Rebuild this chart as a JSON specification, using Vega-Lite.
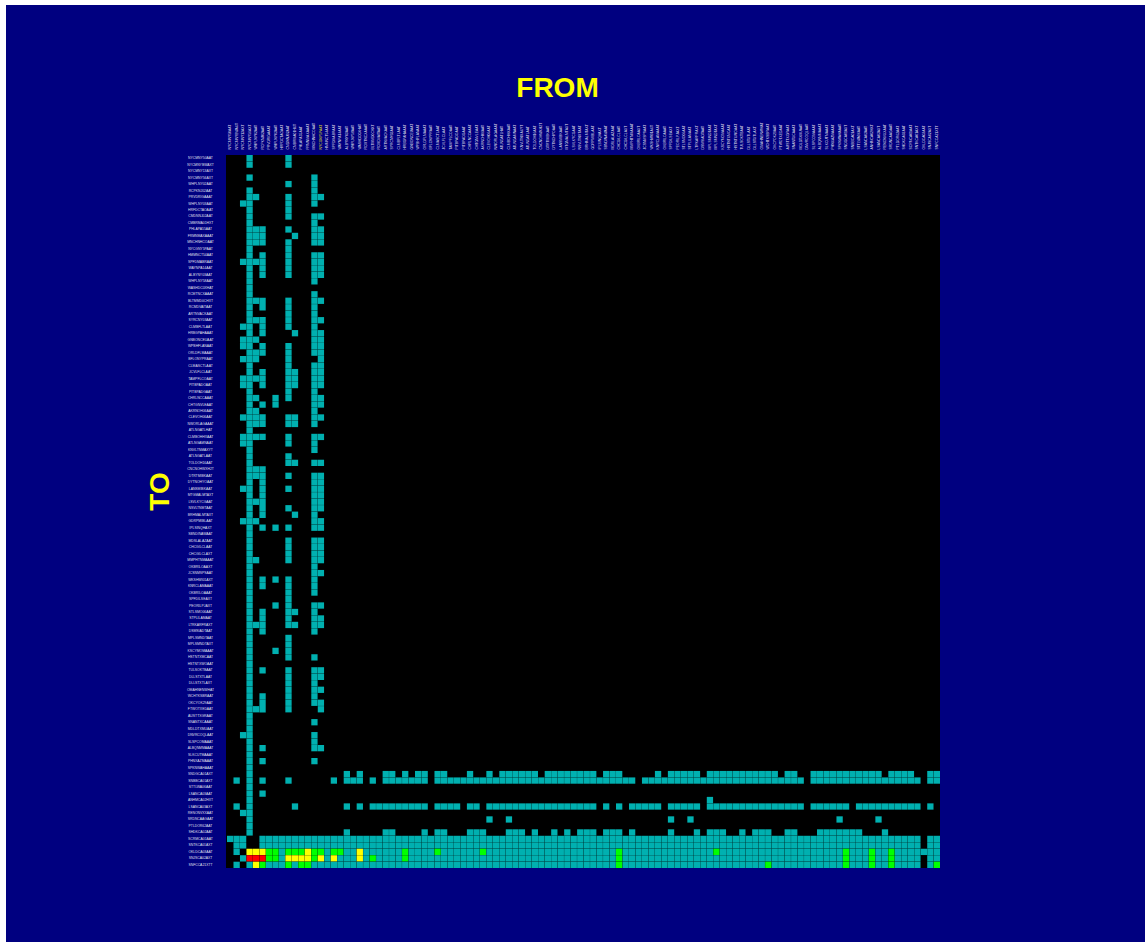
{"$schema":"https://vega.github.io/schema/vega-lite/v6.json","width":1139,"height":937,"autosize":"none","padding":{"left":6,"top":5,"right":0,"bottom":0},"background":"#ffffff","view":{"fill":"#000080","stroke":null},"params":[{"name":"labels","value":["NYCMNY50AAT","NYCMNYBWAXT","NYCMNY13AXT","NYCMNY56AXT","WHPLNY02AAT","RCPKNJ02AAT","PRVDRIGAAAT","WHPLNY03AAT","HRFDCTAOAAT","CMDNNJ02AAT","CMBRMA01HXT","PHLAPA55AAT","FRMNMAXAAAT","MNCHNHCOAAT","NYCGNY5PAAT","HMMNCT54AAT","SPFDMABRAAT","WAYNPA14AAT","ALBYNY03AAT","WHPLNY58AAT","WASHDC0XHAT","RCMTNCXAAAT","BLTMMD0CHXT","RCMDVAITAAT","ARTNVACKAAT","SYRCNY03AAT","CLMBFLTLAAT","HRBGPAHAAAT","GNBONCEUAAT","WPBHFLANAAT","ORLDFLMAAAT","BFLONYPRAAT","CLMASCTLAAT","JCVLFLCLAAT","TAMPFLCOAAT","PITBPADOAAT","PITBPADGAAT","CHRLNCCAAAT","CHTGNVLEAAT","AKRNOH06AAT","CLEVOH06AAT","NWORLAGAAAT","ATLNGATLHAT","CLMBOHHXAAT","ATLNGAMNAAT","KNVLTNMAXYT","ATLNGATLAAT","TOLDOH16AAT","CNCNOHWXH2T","DTRTMIBKAAT","DYTNOHYOAAT","LANSMIBKAAT","MTGMALMTAXT","LSVLKYCGAAT","NSVLTNMTAAT","BRHMALMTAXT","GDRPMIBLAAT","IPLSINQHAXT","SBNDINAWAAT","MDSLALAZAAT","CHCGILCLAAT","CHCGILCLAXT","MMPHTNMAAAT","OKBRILOAAXT","JCSNMSPSAAT","WKSHWI01AXT","KNRCLAMAAAT","OKBRILOAAAT","SPFDILSEAXT","PEORILPJAXT","STLSMO06AAT","STPLILAMAAT","LTRKARFRAXT","DSMSIADTAAT","MPLSMNDTAAT","MPLSMNDTAXT","KSCYMOMAAAT","HSTNTXMCAAT","HSTNTXWOAAT","TULSOKTBAAT","DLLSTXTLAAT","DLLSTXTLAXT","OMAHNENWHAT","WCHTKSBRAAT","OKCYOK29AAT","FTWOTXEDAAT","AUSTTXGRAAT","SNANTXCAAAT","MDLDTXMUAAT","DNVRCOQLAAT","SLSPCOMAAAT","ALBQNMMAAAT","SLKCUTMAAAT","PHNXAZMAAAT","SPKNWAHAAAT","SNDGCA01AXT","SNBBCA01AXT","STTLWA06AAT","LSANCA03AAT","ANHMCA02HXT","LSANCA03AXT","RENONVXXAAT","SRDNCAAGAAT","PTLDOR62AAT","SHDKCA02AAT","SCRMCA01AAT","SNTKCA01AXT","OKLDCA03AAT","SNJSCA02AXT","SNFCCA21XTT"]}],"resolve":{"scale":{"x":"independent","y":"independent"},"axis":{"x":"independent","y":"independent"}},"layer":[{"data":{"values":[{"x0":0,"x1":1,"y0":0,"y1":1}]},"mark":{"type":"rect","fill":"#000000"},"encoding":{"x":{"field":"x0","type":"quantitative","scale":{"domain":[0,1],"range":[220,934]},"axis":null},"x2":{"field":"x1"},"y":{"field":"y0","type":"quantitative","scale":{"domain":[0,1],"range":[150,863]},"axis":null},"y2":{"field":"y1"}}},{"data":{"values":[
{"f":3,"t":0,"l":1},{"f":9,"t":0,"l":1},{"f":3,"t":1,"l":1},{"f":9,"t":1,"l":1},{"f":3,"t":3,"l":1},{"f":13,"t":3,"l":1},{"f":9,"t":4,"l":1},{"f":13,"t":4,"l":1},{"f":3,"t":5,"l":1},{"f":13,"t":5,"l":1},{"f":3,"t":6,"l":1},{"f":4,"t":6,"l":1},{"f":9,"t":6,"l":1},{"f":13,"t":6,"l":1},{"f":14,"t":6,"l":1},{"f":2,"t":7,"l":1},{"f":3,"t":7,"l":1},{"f":9,"t":7,"l":1},{"f":13,"t":7,"l":1},{"f":3,"t":8,"l":1},{"f":9,"t":8,"l":1},{"f":3,"t":9,"l":1},{"f":9,"t":9,"l":1},{"f":13,"t":9,"l":1},{"f":14,"t":9,"l":1},{"f":3,"t":10,"l":1},{"f":13,"t":10,"l":1},{"f":3,"t":11,"l":1},{"f":4,"t":11,"l":1},{"f":5,"t":11,"l":1},{"f":9,"t":11,"l":1},{"f":13,"t":11,"l":1},{"f":14,"t":11,"l":1},{"f":3,"t":12,"l":1},{"f":4,"t":12,"l":1},{"f":5,"t":12,"l":1},{"f":10,"t":12,"l":1},{"f":13,"t":12,"l":1},{"f":14,"t":12,"l":1},{"f":3,"t":13,"l":1},{"f":4,"t":13,"l":1},{"f":5,"t":13,"l":1},{"f":9,"t":13,"l":1},{"f":13,"t":13,"l":1},{"f":14,"t":13,"l":1},{"f":3,"t":14,"l":1},{"f":9,"t":14,"l":1},{"f":3,"t":15,"l":1},{"f":5,"t":15,"l":1},{"f":9,"t":15,"l":1},{"f":13,"t":15,"l":1},{"f":14,"t":15,"l":1},{"f":2,"t":16,"l":1},{"f":3,"t":16,"l":1},{"f":4,"t":16,"l":1},{"f":5,"t":16,"l":1},{"f":9,"t":16,"l":1},{"f":13,"t":16,"l":1},{"f":14,"t":16,"l":1},{"f":3,"t":17,"l":1},{"f":5,"t":17,"l":1},{"f":9,"t":17,"l":1},{"f":13,"t":17,"l":1},{"f":14,"t":17,"l":1},{"f":3,"t":18,"l":1},{"f":5,"t":18,"l":1},{"f":9,"t":18,"l":1},{"f":13,"t":18,"l":1},{"f":14,"t":18,"l":1},{"f":3,"t":19,"l":1},{"f":13,"t":19,"l":1},{"f":3,"t":20,"l":1},{"f":3,"t":21,"l":1},{"f":13,"t":21,"l":1},{"f":3,"t":22,"l":1},{"f":4,"t":22,"l":1},{"f":5,"t":22,"l":1},{"f":9,"t":22,"l":1},{"f":13,"t":22,"l":1},{"f":14,"t":22,"l":1},{"f":3,"t":23,"l":1},{"f":5,"t":23,"l":1},{"f":9,"t":23,"l":1},{"f":13,"t":23,"l":1},{"f":3,"t":24,"l":1},{"f":9,"t":24,"l":1},{"f":13,"t":24,"l":1},{"f":3,"t":25,"l":1},{"f":4,"t":25,"l":1},{"f":5,"t":25,"l":1},{"f":9,"t":25,"l":1},{"f":13,"t":25,"l":1},{"f":14,"t":25,"l":1},{"f":2,"t":26,"l":1},{"f":3,"t":26,"l":1},{"f":5,"t":26,"l":1},{"f":9,"t":26,"l":1},{"f":13,"t":26,"l":1},{"f":3,"t":27,"l":1},{"f":5,"t":27,"l":1},{"f":10,"t":27,"l":1},{"f":13,"t":27,"l":1},{"f":14,"t":27,"l":1},{"f":2,"t":28,"l":1},{"f":3,"t":28,"l":1},{"f":4,"t":28,"l":1},{"f":13,"t":28,"l":1},{"f":14,"t":28,"l":1},{"f":2,"t":29,"l":1},{"f":3,"t":29,"l":1},{"f":5,"t":29,"l":1},{"f":9,"t":29,"l":1},{"f":13,"t":29,"l":1},{"f":14,"t":29,"l":1},{"f":3,"t":30,"l":1},{"f":4,"t":30,"l":1},{"f":5,"t":30,"l":1},{"f":9,"t":30,"l":1},{"f":13,"t":30,"l":1},{"f":14,"t":30,"l":1},{"f":2,"t":31,"l":1},{"f":3,"t":31,"l":1},{"f":4,"t":31,"l":1},{"f":9,"t":31,"l":1},{"f":14,"t":31,"l":1},{"f":3,"t":32,"l":1},{"f":9,"t":32,"l":1},{"f":13,"t":32,"l":1},{"f":14,"t":32,"l":1},{"f":3,"t":33,"l":1},{"f":5,"t":33,"l":1},{"f":9,"t":33,"l":1},{"f":10,"t":33,"l":1},{"f":13,"t":33,"l":1},{"f":14,"t":33,"l":1},{"f":2,"t":34,"l":1},{"f":3,"t":34,"l":1},{"f":4,"t":34,"l":1},{"f":5,"t":34,"l":1},{"f":9,"t":34,"l":1},{"f":10,"t":34,"l":1},{"f":13,"t":34,"l":1},{"f":14,"t":34,"l":1},{"f":2,"t":35,"l":1},{"f":3,"t":35,"l":1},{"f":5,"t":35,"l":1},{"f":9,"t":35,"l":1},{"f":10,"t":35,"l":1},{"f":13,"t":35,"l":1},{"f":14,"t":35,"l":1},{"f":3,"t":36,"l":1},{"f":9,"t":36,"l":1},{"f":13,"t":36,"l":1},{"f":3,"t":37,"l":1},{"f":4,"t":37,"l":1},{"f":7,"t":37,"l":1},{"f":9,"t":37,"l":1},{"f":13,"t":37,"l":1},{"f":14,"t":37,"l":1},{"f":3,"t":38,"l":1},{"f":5,"t":38,"l":1},{"f":7,"t":38,"l":1},{"f":13,"t":38,"l":1},{"f":14,"t":38,"l":1},{"f":3,"t":39,"l":1},{"f":4,"t":39,"l":1},{"f":13,"t":39,"l":1},{"f":2,"t":40,"l":1},{"f":3,"t":40,"l":1},{"f":4,"t":40,"l":1},{"f":5,"t":40,"l":1},{"f":9,"t":40,"l":1},{"f":10,"t":40,"l":1},{"f":13,"t":40,"l":1},{"f":14,"t":40,"l":1},{"f":3,"t":41,"l":1},{"f":4,"t":41,"l":1},{"f":5,"t":41,"l":1},{"f":9,"t":41,"l":1},{"f":10,"t":41,"l":1},{"f":13,"t":41,"l":1},{"f":3,"t":42,"l":1},{"f":2,"t":43,"l":1},{"f":3,"t":43,"l":1},{"f":4,"t":43,"l":1},{"f":5,"t":43,"l":1},{"f":9,"t":43,"l":1},{"f":13,"t":43,"l":1},{"f":14,"t":43,"l":1},{"f":2,"t":44,"l":1},{"f":3,"t":44,"l":1},{"f":9,"t":44,"l":1},{"f":13,"t":44,"l":1},{"f":3,"t":45,"l":1},{"f":13,"t":45,"l":1},{"f":3,"t":46,"l":1},{"f":9,"t":46,"l":1},{"f":3,"t":47,"l":1},{"f":9,"t":47,"l":1},{"f":10,"t":47,"l":1},{"f":13,"t":47,"l":1},{"f":14,"t":47,"l":1},{"f":3,"t":48,"l":1},{"f":4,"t":48,"l":1},{"f":5,"t":48,"l":1},{"f":3,"t":49,"l":1},{"f":4,"t":49,"l":1},{"f":5,"t":49,"l":1},{"f":9,"t":49,"l":1},{"f":13,"t":49,"l":1},{"f":14,"t":49,"l":1},{"f":3,"t":50,"l":1},{"f":5,"t":50,"l":1},{"f":13,"t":50,"l":1},{"f":14,"t":50,"l":1},{"f":2,"t":51,"l":1},{"f":3,"t":51,"l":1},{"f":5,"t":51,"l":1},{"f":9,"t":51,"l":1},{"f":13,"t":51,"l":1},{"f":14,"t":51,"l":1},{"f":3,"t":52,"l":1},{"f":5,"t":52,"l":1},{"f":13,"t":52,"l":1},{"f":14,"t":52,"l":1},{"f":3,"t":53,"l":1},{"f":4,"t":53,"l":1},{"f":5,"t":53,"l":1},{"f":13,"t":53,"l":1},{"f":14,"t":53,"l":1},{"f":3,"t":54,"l":1},{"f":5,"t":54,"l":1},{"f":9,"t":54,"l":1},{"f":13,"t":54,"l":1},{"f":14,"t":54,"l":1},{"f":3,"t":55,"l":1},{"f":5,"t":55,"l":1},{"f":10,"t":55,"l":1},{"f":13,"t":55,"l":1},{"f":2,"t":56,"l":1},{"f":3,"t":56,"l":1},{"f":4,"t":56,"l":1},{"f":13,"t":56,"l":1},{"f":14,"t":56,"l":1},{"f":3,"t":57,"l":1},{"f":5,"t":57,"l":1},{"f":7,"t":57,"l":1},{"f":9,"t":57,"l":1},{"f":13,"t":57,"l":1},{"f":14,"t":57,"l":1},{"f":3,"t":58,"l":1},{"f":3,"t":59,"l":1},{"f":9,"t":59,"l":1},{"f":13,"t":59,"l":1},{"f":14,"t":59,"l":1},{"f":3,"t":60,"l":1},{"f":9,"t":60,"l":1},{"f":13,"t":60,"l":1},{"f":14,"t":60,"l":1},{"f":3,"t":61,"l":1},{"f":9,"t":61,"l":1},{"f":13,"t":61,"l":1},{"f":14,"t":61,"l":1},{"f":3,"t":62,"l":1},{"f":4,"t":62,"l":1},{"f":9,"t":62,"l":1},{"f":13,"t":62,"l":1},{"f":14,"t":62,"l":1},{"f":3,"t":63,"l":1},{"f":13,"t":63,"l":1},{"f":3,"t":64,"l":1},{"f":13,"t":64,"l":1},{"f":14,"t":64,"l":1},{"f":3,"t":65,"l":1},{"f":5,"t":65,"l":1},{"f":7,"t":65,"l":1},{"f":9,"t":65,"l":1},{"f":13,"t":65,"l":1},{"f":3,"t":66,"l":1},{"f":5,"t":66,"l":1},{"f":9,"t":66,"l":1},{"f":13,"t":66,"l":1},{"f":3,"t":67,"l":1},{"f":9,"t":67,"l":1},{"f":13,"t":67,"l":1},{"f":3,"t":68,"l":1},{"f":9,"t":68,"l":1},{"f":3,"t":69,"l":1},{"f":7,"t":69,"l":1},{"f":9,"t":69,"l":1},{"f":13,"t":69,"l":1},{"f":14,"t":69,"l":1},{"f":3,"t":70,"l":1},{"f":5,"t":70,"l":1},{"f":9,"t":70,"l":1},{"f":10,"t":70,"l":1},{"f":13,"t":70,"l":1},{"f":3,"t":71,"l":1},{"f":5,"t":71,"l":1},{"f":9,"t":71,"l":1},{"f":13,"t":71,"l":1},{"f":14,"t":71,"l":1},{"f":3,"t":72,"l":1},{"f":4,"t":72,"l":1},{"f":5,"t":72,"l":1},{"f":9,"t":72,"l":1},{"f":10,"t":72,"l":1},{"f":13,"t":72,"l":1},{"f":14,"t":72,"l":1},{"f":3,"t":73,"l":1},{"f":5,"t":73,"l":1},{"f":13,"t":73,"l":1},{"f":3,"t":74,"l":1},{"f":9,"t":74,"l":1},{"f":3,"t":75,"l":1},{"f":9,"t":75,"l":1},{"f":3,"t":76,"l":1},{"f":7,"t":76,"l":1},{"f":9,"t":76,"l":1},{"f":3,"t":77,"l":1},{"f":9,"t":77,"l":1},{"f":13,"t":77,"l":1},{"f":3,"t":78,"l":1},{"f":3,"t":79,"l":1},{"f":5,"t":79,"l":1},{"f":9,"t":79,"l":1},{"f":13,"t":79,"l":1},{"f":14,"t":79,"l":1},{"f":3,"t":80,"l":1},{"f":9,"t":80,"l":1},{"f":13,"t":80,"l":1},{"f":14,"t":80,"l":1},{"f":3,"t":81,"l":1},{"f":9,"t":81,"l":1},{"f":13,"t":81,"l":1},{"f":3,"t":82,"l":1},{"f":9,"t":82,"l":1},{"f":13,"t":82,"l":1},{"f":14,"t":82,"l":1},{"f":3,"t":83,"l":1},{"f":5,"t":83,"l":1},{"f":9,"t":83,"l":1},{"f":13,"t":83,"l":1},{"f":3,"t":84,"l":1},{"f":5,"t":84,"l":1},{"f":9,"t":84,"l":1},{"f":13,"t":84,"l":1},{"f":14,"t":84,"l":1},{"f":3,"t":85,"l":1},{"f":4,"t":85,"l":1},{"f":5,"t":85,"l":1},{"f":9,"t":85,"l":1},{"f":14,"t":85,"l":1},{"f":3,"t":86,"l":1},{"f":3,"t":87,"l":1},{"f":13,"t":87,"l":1},{"f":3,"t":88,"l":1},{"f":2,"t":89,"l":1},{"f":3,"t":89,"l":1},{"f":13,"t":89,"l":1},{"f":3,"t":90,"l":1},{"f":13,"t":90,"l":1},{"f":3,"t":91,"l":1},{"f":5,"t":91,"l":1},{"f":13,"t":91,"l":1},{"f":14,"t":91,"l":1},{"f":3,"t":92,"l":1},{"f":3,"t":93,"l":1},{"f":5,"t":93,"l":1},{"f":13,"t":93,"l":1},{"f":3,"t":94,"l":1},
{"f":3,"t":95,"l":1},{"f":18,"t":95,"l":1},{"f":20,"t":95,"l":1},{"f":24,"t":95,"l":1},{"f":25,"t":95,"l":1},{"f":27,"t":95,"l":1},{"f":29,"t":95,"l":1},{"f":30,"t":95,"l":1},{"f":32,"t":95,"l":1},{"f":33,"t":95,"l":1},{"f":37,"t":95,"l":1},{"f":40,"t":95,"l":1},{"f":42,"t":95,"l":1},{"f":43,"t":95,"l":1},{"f":44,"t":95,"l":1},{"f":45,"t":95,"l":1},{"f":46,"t":95,"l":1},{"f":47,"t":95,"l":1},{"f":49,"t":95,"l":1},{"f":50,"t":95,"l":1},{"f":51,"t":95,"l":1},{"f":52,"t":95,"l":1},{"f":53,"t":95,"l":1},{"f":54,"t":95,"l":1},{"f":55,"t":95,"l":1},{"f":56,"t":95,"l":1},{"f":58,"t":95,"l":1},{"f":59,"t":95,"l":1},{"f":60,"t":95,"l":1},{"f":66,"t":95,"l":1},{"f":68,"t":95,"l":1},{"f":69,"t":95,"l":1},{"f":70,"t":95,"l":1},{"f":71,"t":95,"l":1},{"f":72,"t":95,"l":1},{"f":74,"t":95,"l":1},{"f":75,"t":95,"l":1},{"f":76,"t":95,"l":1},{"f":77,"t":95,"l":1},{"f":78,"t":95,"l":1},{"f":79,"t":95,"l":1},{"f":80,"t":95,"l":1},{"f":81,"t":95,"l":1},{"f":82,"t":95,"l":1},{"f":83,"t":95,"l":1},{"f":84,"t":95,"l":1},{"f":86,"t":95,"l":1},{"f":87,"t":95,"l":1},{"f":90,"t":95,"l":1},{"f":91,"t":95,"l":1},{"f":92,"t":95,"l":1},{"f":93,"t":95,"l":1},{"f":94,"t":95,"l":1},{"f":95,"t":95,"l":1},{"f":96,"t":95,"l":1},{"f":97,"t":95,"l":1},{"f":98,"t":95,"l":1},{"f":99,"t":95,"l":1},{"f":100,"t":95,"l":1},{"f":102,"t":95,"l":1},{"f":103,"t":95,"l":1},{"f":104,"t":95,"l":1},{"f":105,"t":95,"l":1},{"f":108,"t":95,"l":1},{"f":109,"t":95,"l":1},
{"f":1,"t":96,"l":1},{"f":3,"t":96,"l":1},{"f":5,"t":96,"l":1},{"f":9,"t":96,"l":1},{"f":16,"t":96,"l":1},{"f":18,"t":96,"l":1},{"f":19,"t":96,"l":1},{"f":20,"t":96,"l":1},{"f":22,"t":96,"l":1},{"f":24,"t":96,"l":1},{"f":25,"t":96,"l":1},{"f":26,"t":96,"l":1},{"f":27,"t":96,"l":1},{"f":28,"t":96,"l":1},{"f":29,"t":96,"l":1},{"f":30,"t":96,"l":1},{"f":32,"t":96,"l":1},{"f":33,"t":96,"l":1},{"f":34,"t":96,"l":1},{"f":35,"t":96,"l":1},{"f":36,"t":96,"l":1},{"f":37,"t":96,"l":1},{"f":38,"t":96,"l":1},{"f":39,"t":96,"l":1},{"f":40,"t":96,"l":1},{"f":41,"t":96,"l":1},{"f":42,"t":96,"l":1},{"f":43,"t":96,"l":1},{"f":44,"t":96,"l":1},{"f":45,"t":96,"l":1},{"f":46,"t":96,"l":1},{"f":47,"t":96,"l":1},{"f":48,"t":96,"l":1},{"f":49,"t":96,"l":1},{"f":50,"t":96,"l":1},{"f":51,"t":96,"l":1},{"f":52,"t":96,"l":1},{"f":53,"t":96,"l":1},{"f":54,"t":96,"l":1},{"f":55,"t":96,"l":1},{"f":56,"t":96,"l":1},{"f":57,"t":96,"l":1},{"f":58,"t":96,"l":1},{"f":59,"t":96,"l":1},{"f":60,"t":96,"l":1},{"f":61,"t":96,"l":1},{"f":62,"t":96,"l":1},{"f":64,"t":96,"l":1},{"f":65,"t":96,"l":1},{"f":66,"t":96,"l":1},{"f":67,"t":96,"l":1},{"f":68,"t":96,"l":1},{"f":69,"t":96,"l":1},{"f":70,"t":96,"l":1},{"f":71,"t":96,"l":1},{"f":72,"t":96,"l":1},{"f":73,"t":96,"l":1},{"f":74,"t":96,"l":1},{"f":75,"t":96,"l":1},{"f":76,"t":96,"l":1},{"f":77,"t":96,"l":1},{"f":78,"t":96,"l":1},{"f":79,"t":96,"l":1},{"f":80,"t":96,"l":1},{"f":81,"t":96,"l":1},{"f":82,"t":96,"l":1},{"f":83,"t":96,"l":1},{"f":84,"t":96,"l":1},{"f":85,"t":96,"l":1},{"f":86,"t":96,"l":1},{"f":87,"t":96,"l":1},{"f":88,"t":96,"l":1},{"f":90,"t":96,"l":1},{"f":91,"t":96,"l":1},{"f":92,"t":96,"l":1},{"f":93,"t":96,"l":1},{"f":94,"t":96,"l":1},{"f":95,"t":96,"l":1},{"f":96,"t":96,"l":1},{"f":97,"t":96,"l":1},{"f":98,"t":96,"l":1},{"f":99,"t":96,"l":1},{"f":100,"t":96,"l":1},{"f":101,"t":96,"l":1},{"f":102,"t":96,"l":1},{"f":103,"t":96,"l":1},{"f":104,"t":96,"l":1},{"f":105,"t":96,"l":1},{"f":106,"t":96,"l":1},{"f":108,"t":96,"l":1},{"f":109,"t":96,"l":1},
{"f":3,"t":97,"l":1},{"f":3,"t":98,"l":1},{"f":5,"t":98,"l":1},{"f":3,"t":99,"l":1},{"f":74,"t":99,"l":1},
{"f":1,"t":100,"l":1},{"f":3,"t":100,"l":1},{"f":10,"t":100,"l":1},{"f":18,"t":100,"l":1},{"f":20,"t":100,"l":1},{"f":22,"t":100,"l":1},{"f":23,"t":100,"l":1},{"f":24,"t":100,"l":1},{"f":25,"t":100,"l":1},{"f":26,"t":100,"l":1},{"f":27,"t":100,"l":1},{"f":28,"t":100,"l":1},{"f":29,"t":100,"l":1},{"f":30,"t":100,"l":1},{"f":32,"t":100,"l":1},{"f":33,"t":100,"l":1},{"f":34,"t":100,"l":1},{"f":35,"t":100,"l":1},{"f":37,"t":100,"l":1},{"f":38,"t":100,"l":1},{"f":40,"t":100,"l":1},{"f":41,"t":100,"l":1},{"f":42,"t":100,"l":1},{"f":43,"t":100,"l":1},{"f":44,"t":100,"l":1},{"f":45,"t":100,"l":1},{"f":46,"t":100,"l":1},{"f":47,"t":100,"l":1},{"f":48,"t":100,"l":1},{"f":49,"t":100,"l":1},{"f":50,"t":100,"l":1},{"f":51,"t":100,"l":1},{"f":52,"t":100,"l":1},{"f":53,"t":100,"l":1},{"f":54,"t":100,"l":1},{"f":55,"t":100,"l":1},{"f":56,"t":100,"l":1},{"f":58,"t":100,"l":1},{"f":60,"t":100,"l":1},{"f":62,"t":100,"l":1},{"f":63,"t":100,"l":1},{"f":64,"t":100,"l":1},{"f":65,"t":100,"l":1},{"f":66,"t":100,"l":1},{"f":68,"t":100,"l":1},{"f":69,"t":100,"l":1},{"f":70,"t":100,"l":1},{"f":71,"t":100,"l":1},{"f":72,"t":100,"l":1},{"f":74,"t":100,"l":1},{"f":75,"t":100,"l":1},{"f":76,"t":100,"l":1},{"f":77,"t":100,"l":1},{"f":78,"t":100,"l":1},{"f":79,"t":100,"l":1},{"f":80,"t":100,"l":1},{"f":81,"t":100,"l":1},{"f":82,"t":100,"l":1},{"f":83,"t":100,"l":1},{"f":84,"t":100,"l":1},{"f":85,"t":100,"l":1},{"f":86,"t":100,"l":1},{"f":87,"t":100,"l":1},{"f":88,"t":100,"l":1},{"f":90,"t":100,"l":1},{"f":91,"t":100,"l":1},{"f":92,"t":100,"l":1},{"f":93,"t":100,"l":1},{"f":94,"t":100,"l":1},{"f":95,"t":100,"l":1},{"f":97,"t":100,"l":1},{"f":98,"t":100,"l":1},{"f":99,"t":100,"l":1},{"f":100,"t":100,"l":1},{"f":101,"t":100,"l":1},{"f":102,"t":100,"l":1},{"f":103,"t":100,"l":1},{"f":104,"t":100,"l":1},{"f":105,"t":100,"l":1},{"f":106,"t":100,"l":1},{"f":108,"t":100,"l":1},
{"f":2,"t":101,"l":1},{"f":3,"t":101,"l":1},{"f":3,"t":102,"l":1},{"f":40,"t":102,"l":1},{"f":43,"t":102,"l":1},{"f":68,"t":102,"l":1},{"f":71,"t":102,"l":1},{"f":94,"t":102,"l":1},{"f":100,"t":102,"l":1},{"f":3,"t":103,"l":1},
{"f":3,"t":104,"l":1},{"f":18,"t":104,"l":1},{"f":24,"t":104,"l":1},{"f":25,"t":104,"l":1},{"f":30,"t":104,"l":1},{"f":32,"t":104,"l":1},{"f":33,"t":104,"l":1},{"f":37,"t":104,"l":1},{"f":38,"t":104,"l":1},{"f":39,"t":104,"l":1},{"f":43,"t":104,"l":1},{"f":44,"t":104,"l":1},{"f":45,"t":104,"l":1},{"f":47,"t":104,"l":1},{"f":50,"t":104,"l":1},{"f":52,"t":104,"l":1},{"f":54,"t":104,"l":1},{"f":55,"t":104,"l":1},{"f":56,"t":104,"l":1},{"f":58,"t":104,"l":1},{"f":59,"t":104,"l":1},{"f":60,"t":104,"l":1},{"f":62,"t":104,"l":1},{"f":68,"t":104,"l":1},{"f":72,"t":104,"l":1},{"f":74,"t":104,"l":1},{"f":75,"t":104,"l":1},{"f":76,"t":104,"l":1},{"f":79,"t":104,"l":1},{"f":81,"t":104,"l":1},{"f":82,"t":104,"l":1},{"f":83,"t":104,"l":1},{"f":86,"t":104,"l":1},{"f":87,"t":104,"l":1},{"f":91,"t":104,"l":1},{"f":92,"t":104,"l":1},{"f":93,"t":104,"l":1},{"f":94,"t":104,"l":1},{"f":95,"t":104,"l":1},{"f":96,"t":104,"l":1},{"f":97,"t":104,"l":1},{"f":101,"t":104,"l":1},
{"f":0,"t":105,"l":1},{"f":1,"t":105,"l":1},{"f":2,"t":105,"l":1},{"f":5,"t":105,"l":1},{"f":6,"t":105,"l":1},{"f":7,"t":105,"l":1},{"f":8,"t":105,"l":1},{"f":9,"t":105,"l":1},{"f":10,"t":105,"l":1},{"f":11,"t":105,"l":1},{"f":12,"t":105,"l":1},{"f":13,"t":105,"l":1},{"f":14,"t":105,"l":1},{"f":15,"t":105,"l":1},{"f":16,"t":105,"l":1},{"f":17,"t":105,"l":1},{"f":18,"t":105,"l":1},{"f":19,"t":105,"l":1},{"f":20,"t":105,"l":1},{"f":21,"t":105,"l":1},{"f":22,"t":105,"l":1},{"f":23,"t":105,"l":1},{"f":24,"t":105,"l":1},{"f":25,"t":105,"l":1},{"f":26,"t":105,"l":1},{"f":27,"t":105,"l":1},{"f":28,"t":105,"l":1},{"f":29,"t":105,"l":1},{"f":30,"t":105,"l":1},{"f":31,"t":105,"l":1},{"f":32,"t":105,"l":1},{"f":33,"t":105,"l":1},{"f":34,"t":105,"l":1},{"f":35,"t":105,"l":1},{"f":36,"t":105,"l":1},{"f":37,"t":105,"l":1},{"f":38,"t":105,"l":1},{"f":39,"t":105,"l":1},{"f":40,"t":105,"l":1},{"f":41,"t":105,"l":1},{"f":42,"t":105,"l":1},{"f":43,"t":105,"l":1},{"f":44,"t":105,"l":1},{"f":45,"t":105,"l":1},{"f":46,"t":105,"l":1},{"f":47,"t":105,"l":1},{"f":48,"t":105,"l":1},{"f":49,"t":105,"l":1},{"f":50,"t":105,"l":1},{"f":51,"t":105,"l":1},{"f":52,"t":105,"l":1},{"f":53,"t":105,"l":1},{"f":54,"t":105,"l":1},{"f":55,"t":105,"l":1},{"f":56,"t":105,"l":1},{"f":57,"t":105,"l":1},{"f":58,"t":105,"l":1},{"f":59,"t":105,"l":1},{"f":60,"t":105,"l":1},{"f":61,"t":105,"l":1},{"f":62,"t":105,"l":1},{"f":63,"t":105,"l":1},{"f":64,"t":105,"l":1},{"f":65,"t":105,"l":1},{"f":66,"t":105,"l":1},{"f":67,"t":105,"l":1},{"f":68,"t":105,"l":1},{"f":69,"t":105,"l":1},{"f":70,"t":105,"l":1},{"f":71,"t":105,"l":1},{"f":72,"t":105,"l":1},{"f":73,"t":105,"l":1},{"f":74,"t":105,"l":1},{"f":75,"t":105,"l":1},{"f":76,"t":105,"l":1},{"f":77,"t":105,"l":1},{"f":78,"t":105,"l":1},{"f":79,"t":105,"l":1},{"f":80,"t":105,"l":1},{"f":81,"t":105,"l":1},{"f":82,"t":105,"l":1},{"f":83,"t":105,"l":1},{"f":84,"t":105,"l":1},{"f":85,"t":105,"l":1},{"f":86,"t":105,"l":1},{"f":87,"t":105,"l":1},{"f":88,"t":105,"l":1},{"f":89,"t":105,"l":1},{"f":90,"t":105,"l":1},{"f":91,"t":105,"l":1},{"f":92,"t":105,"l":1},{"f":93,"t":105,"l":1},{"f":94,"t":105,"l":1},{"f":95,"t":105,"l":1},{"f":96,"t":105,"l":1},{"f":97,"t":105,"l":1},{"f":98,"t":105,"l":1},{"f":99,"t":105,"l":1},{"f":100,"t":105,"l":1},{"f":101,"t":105,"l":1},{"f":102,"t":105,"l":1},{"f":103,"t":105,"l":1},{"f":104,"t":105,"l":1},{"f":105,"t":105,"l":1},{"f":106,"t":105,"l":1},{"f":108,"t":105,"l":1},{"f":109,"t":105,"l":1},
{"f":1,"t":106,"l":1},{"f":2,"t":106,"l":1},{"f":5,"t":106,"l":1},{"f":6,"t":106,"l":1},{"f":7,"t":106,"l":1},{"f":8,"t":106,"l":1},{"f":9,"t":106,"l":1},{"f":10,"t":106,"l":1},{"f":11,"t":106,"l":1},{"f":12,"t":106,"l":1},{"f":13,"t":106,"l":1},{"f":14,"t":106,"l":1},{"f":15,"t":106,"l":1},{"f":16,"t":106,"l":1},{"f":17,"t":106,"l":1},{"f":18,"t":106,"l":1},{"f":19,"t":106,"l":1},{"f":20,"t":106,"l":1},{"f":21,"t":106,"l":1},{"f":22,"t":106,"l":1},{"f":23,"t":106,"l":1},{"f":24,"t":106,"l":1},{"f":25,"t":106,"l":1},{"f":26,"t":106,"l":1},{"f":27,"t":106,"l":1},{"f":28,"t":106,"l":1},{"f":29,"t":106,"l":1},{"f":30,"t":106,"l":1},{"f":31,"t":106,"l":1},{"f":32,"t":106,"l":1},{"f":33,"t":106,"l":1},{"f":34,"t":106,"l":1},{"f":35,"t":106,"l":1},{"f":36,"t":106,"l":1},{"f":37,"t":106,"l":1},{"f":38,"t":106,"l":1},{"f":39,"t":106,"l":1},{"f":40,"t":106,"l":1},{"f":41,"t":106,"l":1},{"f":42,"t":106,"l":1},{"f":43,"t":106,"l":1},{"f":44,"t":106,"l":1},{"f":45,"t":106,"l":1},{"f":46,"t":106,"l":1},{"f":47,"t":106,"l":1},{"f":48,"t":106,"l":1},{"f":49,"t":106,"l":1},{"f":50,"t":106,"l":1},{"f":51,"t":106,"l":1},{"f":52,"t":106,"l":1},{"f":53,"t":106,"l":1},{"f":54,"t":106,"l":1},{"f":55,"t":106,"l":1},{"f":56,"t":106,"l":1},{"f":57,"t":106,"l":1},{"f":58,"t":106,"l":1},{"f":59,"t":106,"l":1},{"f":60,"t":106,"l":1},{"f":61,"t":106,"l":1},{"f":62,"t":106,"l":1},{"f":63,"t":106,"l":1},{"f":64,"t":106,"l":1},{"f":65,"t":106,"l":1},{"f":66,"t":106,"l":1},{"f":67,"t":106,"l":1},{"f":68,"t":106,"l":1},{"f":69,"t":106,"l":1},{"f":70,"t":106,"l":1},{"f":71,"t":106,"l":1},{"f":72,"t":106,"l":1},{"f":73,"t":106,"l":1},{"f":74,"t":106,"l":1},{"f":75,"t":106,"l":1},{"f":76,"t":106,"l":1},{"f":77,"t":106,"l":1},{"f":78,"t":106,"l":1},{"f":79,"t":106,"l":1},{"f":80,"t":106,"l":1},{"f":81,"t":106,"l":1},{"f":82,"t":106,"l":1},{"f":83,"t":106,"l":1},{"f":84,"t":106,"l":1},{"f":85,"t":106,"l":1},{"f":86,"t":106,"l":1},{"f":87,"t":106,"l":1},{"f":88,"t":106,"l":1},{"f":89,"t":106,"l":1},{"f":90,"t":106,"l":1},{"f":91,"t":106,"l":1},{"f":92,"t":106,"l":1},{"f":93,"t":106,"l":1},{"f":94,"t":106,"l":1},{"f":95,"t":106,"l":1},{"f":96,"t":106,"l":1},{"f":97,"t":106,"l":1},{"f":98,"t":106,"l":1},{"f":99,"t":106,"l":1},{"f":100,"t":106,"l":1},{"f":101,"t":106,"l":1},{"f":102,"t":106,"l":1},{"f":103,"t":106,"l":1},{"f":104,"t":106,"l":1},{"f":105,"t":106,"l":1},{"f":106,"t":106,"l":1},{"f":108,"t":106,"l":1},{"f":109,"t":106,"l":1},
{"f":1,"t":107,"l":1},{"f":3,"t":107,"l":3},{"f":4,"t":107,"l":3},{"f":5,"t":107,"l":3},{"f":6,"t":107,"l":2},{"f":7,"t":107,"l":2},{"f":8,"t":107,"l":1},{"f":9,"t":107,"l":2},{"f":10,"t":107,"l":2},{"f":11,"t":107,"l":2},{"f":12,"t":107,"l":3},{"f":13,"t":107,"l":2},{"f":14,"t":107,"l":2},{"f":15,"t":107,"l":1},{"f":16,"t":107,"l":2},{"f":17,"t":107,"l":2},{"f":18,"t":107,"l":1},{"f":19,"t":107,"l":1},{"f":20,"t":107,"l":3},{"f":21,"t":107,"l":1},{"f":22,"t":107,"l":1},{"f":23,"t":107,"l":1},{"f":24,"t":107,"l":1},{"f":25,"t":107,"l":1},{"f":26,"t":107,"l":1},{"f":27,"t":107,"l":2},{"f":28,"t":107,"l":1},{"f":29,"t":107,"l":1},{"f":30,"t":107,"l":1},{"f":31,"t":107,"l":1},{"f":32,"t":107,"l":2},{"f":33,"t":107,"l":1},{"f":34,"t":107,"l":1},{"f":35,"t":107,"l":1},{"f":36,"t":107,"l":1},{"f":37,"t":107,"l":1},{"f":38,"t":107,"l":1},{"f":39,"t":107,"l":2},{"f":40,"t":107,"l":1},{"f":41,"t":107,"l":1},{"f":42,"t":107,"l":1},{"f":43,"t":107,"l":1},{"f":44,"t":107,"l":1},{"f":45,"t":107,"l":1},{"f":46,"t":107,"l":1},{"f":47,"t":107,"l":1},{"f":48,"t":107,"l":1},{"f":49,"t":107,"l":1},{"f":50,"t":107,"l":1},{"f":51,"t":107,"l":1},{"f":52,"t":107,"l":1},{"f":53,"t":107,"l":1},{"f":54,"t":107,"l":1},{"f":55,"t":107,"l":1},{"f":56,"t":107,"l":1},{"f":57,"t":107,"l":1},{"f":58,"t":107,"l":1},{"f":59,"t":107,"l":1},{"f":60,"t":107,"l":2},{"f":61,"t":107,"l":1},{"f":62,"t":107,"l":1},{"f":63,"t":107,"l":1},{"f":64,"t":107,"l":1},{"f":65,"t":107,"l":1},{"f":66,"t":107,"l":1},{"f":67,"t":107,"l":1},{"f":68,"t":107,"l":1},{"f":69,"t":107,"l":1},{"f":70,"t":107,"l":1},{"f":71,"t":107,"l":1},{"f":72,"t":107,"l":1},{"f":73,"t":107,"l":1},{"f":74,"t":107,"l":1},{"f":75,"t":107,"l":2},{"f":76,"t":107,"l":1},{"f":77,"t":107,"l":1},{"f":78,"t":107,"l":1},{"f":79,"t":107,"l":1},{"f":80,"t":107,"l":1},{"f":81,"t":107,"l":1},{"f":82,"t":107,"l":1},{"f":83,"t":107,"l":1},{"f":84,"t":107,"l":1},{"f":85,"t":107,"l":1},{"f":86,"t":107,"l":1},{"f":87,"t":107,"l":1},{"f":88,"t":107,"l":1},{"f":89,"t":107,"l":1},{"f":90,"t":107,"l":1},{"f":91,"t":107,"l":1},{"f":92,"t":107,"l":1},{"f":93,"t":107,"l":1},{"f":94,"t":107,"l":1},{"f":95,"t":107,"l":2},{"f":96,"t":107,"l":1},{"f":97,"t":107,"l":1},{"f":98,"t":107,"l":1},{"f":99,"t":107,"l":2},{"f":100,"t":107,"l":1},{"f":101,"t":107,"l":1},{"f":102,"t":107,"l":2},{"f":103,"t":107,"l":1},{"f":104,"t":107,"l":1},{"f":105,"t":107,"l":1},{"f":106,"t":107,"l":1},{"f":107,"t":107,"l":1},{"f":108,"t":107,"l":1},{"f":109,"t":107,"l":1},
{"f":2,"t":108,"l":1},{"f":3,"t":108,"l":4},{"f":4,"t":108,"l":4},{"f":5,"t":108,"l":4},{"f":6,"t":108,"l":2},{"f":7,"t":108,"l":2},{"f":8,"t":108,"l":1},{"f":9,"t":108,"l":3},{"f":10,"t":108,"l":3},{"f":11,"t":108,"l":3},{"f":12,"t":108,"l":3},{"f":13,"t":108,"l":2},{"f":14,"t":108,"l":3},{"f":15,"t":108,"l":1},{"f":16,"t":108,"l":3},{"f":17,"t":108,"l":1},{"f":18,"t":108,"l":1},{"f":19,"t":108,"l":1},{"f":20,"t":108,"l":3},{"f":21,"t":108,"l":1},{"f":22,"t":108,"l":2},{"f":23,"t":108,"l":1},{"f":24,"t":108,"l":1},{"f":25,"t":108,"l":1},{"f":26,"t":108,"l":1},{"f":27,"t":108,"l":2},{"f":28,"t":108,"l":1},{"f":29,"t":108,"l":1},{"f":30,"t":108,"l":1},{"f":31,"t":108,"l":1},{"f":32,"t":108,"l":1},{"f":33,"t":108,"l":1},{"f":34,"t":108,"l":1},{"f":35,"t":108,"l":1},{"f":36,"t":108,"l":1},{"f":37,"t":108,"l":1},{"f":38,"t":108,"l":1},{"f":39,"t":108,"l":1},{"f":40,"t":108,"l":1},{"f":41,"t":108,"l":1},{"f":42,"t":108,"l":1},{"f":43,"t":108,"l":1},{"f":44,"t":108,"l":1},{"f":45,"t":108,"l":1},{"f":46,"t":108,"l":1},{"f":47,"t":108,"l":1},{"f":48,"t":108,"l":1},{"f":49,"t":108,"l":1},{"f":50,"t":108,"l":1},{"f":51,"t":108,"l":1},{"f":52,"t":108,"l":1},{"f":53,"t":108,"l":1},{"f":54,"t":108,"l":1},{"f":55,"t":108,"l":1},{"f":56,"t":108,"l":1},{"f":57,"t":108,"l":1},{"f":58,"t":108,"l":1},{"f":59,"t":108,"l":1},{"f":60,"t":108,"l":2},{"f":61,"t":108,"l":1},{"f":62,"t":108,"l":1},{"f":63,"t":108,"l":1},{"f":64,"t":108,"l":1},{"f":65,"t":108,"l":1},{"f":66,"t":108,"l":1},{"f":67,"t":108,"l":1},{"f":68,"t":108,"l":1},{"f":69,"t":108,"l":1},{"f":70,"t":108,"l":1},{"f":71,"t":108,"l":1},{"f":72,"t":108,"l":1},{"f":73,"t":108,"l":1},{"f":74,"t":108,"l":1},{"f":75,"t":108,"l":1},{"f":76,"t":108,"l":1},{"f":77,"t":108,"l":1},{"f":78,"t":108,"l":1},{"f":79,"t":108,"l":1},{"f":80,"t":108,"l":1},{"f":81,"t":108,"l":1},{"f":82,"t":108,"l":1},{"f":83,"t":108,"l":1},{"f":84,"t":108,"l":1},{"f":85,"t":108,"l":1},{"f":86,"t":108,"l":1},{"f":87,"t":108,"l":1},{"f":88,"t":108,"l":1},{"f":89,"t":108,"l":1},{"f":90,"t":108,"l":1},{"f":91,"t":108,"l":1},{"f":92,"t":108,"l":1},{"f":93,"t":108,"l":1},{"f":94,"t":108,"l":1},{"f":95,"t":108,"l":2},{"f":96,"t":108,"l":1},{"f":97,"t":108,"l":1},{"f":98,"t":108,"l":1},{"f":99,"t":108,"l":2},{"f":100,"t":108,"l":1},{"f":101,"t":108,"l":1},{"f":102,"t":108,"l":2},{"f":103,"t":108,"l":1},{"f":104,"t":108,"l":1},{"f":105,"t":108,"l":1},{"f":106,"t":108,"l":1},{"f":108,"t":108,"l":1},{"f":109,"t":108,"l":1},
{"f":1,"t":109,"l":1},{"f":3,"t":109,"l":1},{"f":4,"t":109,"l":3},{"f":5,"t":109,"l":2},{"f":6,"t":109,"l":1},{"f":7,"t":109,"l":1},{"f":8,"t":109,"l":1},{"f":9,"t":109,"l":2},{"f":10,"t":109,"l":1},{"f":11,"t":109,"l":2},{"f":12,"t":109,"l":2},{"f":13,"t":109,"l":1},{"f":14,"t":109,"l":1},{"f":15,"t":109,"l":1},{"f":16,"t":109,"l":1},{"f":17,"t":109,"l":1},{"f":18,"t":109,"l":1},{"f":19,"t":109,"l":1},{"f":20,"t":109,"l":1},{"f":21,"t":109,"l":1},{"f":22,"t":109,"l":1},{"f":23,"t":109,"l":1},{"f":24,"t":109,"l":1},{"f":25,"t":109,"l":1},{"f":26,"t":109,"l":1},{"f":27,"t":109,"l":1},{"f":28,"t":109,"l":1},{"f":29,"t":109,"l":1},{"f":30,"t":109,"l":1},{"f":31,"t":109,"l":1},{"f":32,"t":109,"l":1},{"f":33,"t":109,"l":1},{"f":34,"t":109,"l":1},{"f":35,"t":109,"l":1},{"f":36,"t":109,"l":1},{"f":37,"t":109,"l":1},{"f":38,"t":109,"l":1},{"f":39,"t":109,"l":1},{"f":40,"t":109,"l":1},{"f":41,"t":109,"l":1},{"f":42,"t":109,"l":1},{"f":43,"t":109,"l":1},{"f":44,"t":109,"l":1},{"f":45,"t":109,"l":1},{"f":46,"t":109,"l":1},{"f":47,"t":109,"l":1},{"f":48,"t":109,"l":1},{"f":49,"t":109,"l":1},{"f":50,"t":109,"l":1},{"f":51,"t":109,"l":1},{"f":52,"t":109,"l":1},{"f":53,"t":109,"l":1},{"f":54,"t":109,"l":1},{"f":55,"t":109,"l":1},{"f":56,"t":109,"l":1},{"f":57,"t":109,"l":1},{"f":58,"t":109,"l":1},{"f":59,"t":109,"l":1},{"f":60,"t":109,"l":2},{"f":61,"t":109,"l":1},{"f":62,"t":109,"l":1},{"f":63,"t":109,"l":1},{"f":64,"t":109,"l":1},{"f":65,"t":109,"l":1},{"f":66,"t":109,"l":1},{"f":67,"t":109,"l":1},{"f":68,"t":109,"l":1},{"f":69,"t":109,"l":1},{"f":70,"t":109,"l":1},{"f":71,"t":109,"l":1},{"f":72,"t":109,"l":1},{"f":73,"t":109,"l":1},{"f":74,"t":109,"l":1},{"f":75,"t":109,"l":1},{"f":76,"t":109,"l":1},{"f":77,"t":109,"l":1},{"f":78,"t":109,"l":1},{"f":79,"t":109,"l":1},{"f":80,"t":109,"l":1},{"f":81,"t":109,"l":1},{"f":82,"t":109,"l":1},{"f":83,"t":109,"l":2},{"f":84,"t":109,"l":1},{"f":85,"t":109,"l":1},{"f":86,"t":109,"l":1},{"f":87,"t":109,"l":1},{"f":88,"t":109,"l":1},{"f":89,"t":109,"l":1},{"f":90,"t":109,"l":1},{"f":91,"t":109,"l":1},{"f":92,"t":109,"l":1},{"f":93,"t":109,"l":1},{"f":94,"t":109,"l":1},{"f":95,"t":109,"l":2},{"f":96,"t":109,"l":1},{"f":97,"t":109,"l":1},{"f":98,"t":109,"l":1},{"f":99,"t":109,"l":2},{"f":100,"t":109,"l":1},{"f":101,"t":109,"l":1},{"f":102,"t":109,"l":2},{"f":103,"t":109,"l":1},{"f":104,"t":109,"l":1},{"f":105,"t":109,"l":1},{"f":106,"t":109,"l":1},{"f":108,"t":109,"l":1},{"f":109,"t":109,"l":2}
]},"mark":{"type":"rect"},"encoding":{"x":{"field":"f","type":"ordinal","scale":{"type":"band","domain":[0,1,2,3,4,5,6,7,8,9,10,11,12,13,14,15,16,17,18,19,20,21,22,23,24,25,26,27,28,29,30,31,32,33,34,35,36,37,38,39,40,41,42,43,44,45,46,47,48,49,50,51,52,53,54,55,56,57,58,59,60,61,62,63,64,65,66,67,68,69,70,71,72,73,74,75,76,77,78,79,80,81,82,83,84,85,86,87,88,89,90,91,92,93,94,95,96,97,98,99,100,101,102,103,104,105,106,107,108,109],"range":[221,934],"paddingInner":0.03,"paddingOuter":0},"axis":{"orient":"top","offset":-150,"title":"FROM","titleFont":"Liberation Sans","titleFontWeight":"bold","titleFontSize":28,"titleColor":"#ffff00","titleX":551,"titleY":-67,"titleAlign":"center","titleBaseline":"middle","domain":false,"ticks":false,"grid":false,"labelAngle":270,"labelAlign":"left","labelBaseline":"middle","labelPadding":6,"labelFontSize":3.4,"labelFont":"Liberation Sans","labelFontWeight":"normal","labelOpacity":0.9,"labelOverlap":false,"labelBound":false,"labelFlush":false,"labelLimit":0,"labelExpr":"labels[datum.value]","labelColor":{"condition":{"test":"datum.value == 14","value":"#ffff00"},"value":"#ffffff"}}},"y":{"field":"t","type":"ordinal","scale":{"type":"band","domain":[0,1,2,3,4,5,6,7,8,9,10,11,12,13,14,15,16,17,18,19,20,21,22,23,24,25,26,27,28,29,30,31,32,33,34,35,36,37,38,39,40,41,42,43,44,45,46,47,48,49,50,51,52,53,54,55,56,57,58,59,60,61,62,63,64,65,66,67,68,69,70,71,72,73,74,75,76,77,78,79,80,81,82,83,84,85,86,87,88,89,90,91,92,93,94,95,96,97,98,99,100,101,102,103,104,105,106,107,108,109],"range":[150,863],"paddingInner":0.03,"paddingOuter":0},"axis":{"orient":"left","offset":-221,"title":"TO","titleFont":"Liberation Sans","titleFontWeight":"bold","titleFontSize":28,"titleColor":"#ffff00","titleX":-67,"titleY":486,"titleAlign":"center","titleBaseline":"middle","domain":false,"ticks":false,"grid":false,"labelAlign":"center","labelBaseline":"middle","labelPadding":27,"labelFontSize":3.4,"labelFont":"Liberation Sans","labelFontWeight":"normal","labelOpacity":0.9,"labelColor":"#ffffff","labelOverlap":false,"labelBound":false,"labelFlush":false,"labelLimit":0,"labelExpr":"labels[datum.value]"}},"color":{"field":"l","type":"nominal","scale":{"domain":[1,2,3,4],"range":["#00b0b0","#00ff00","#ffff00","#ff0000"]},"legend":null}}}]}
